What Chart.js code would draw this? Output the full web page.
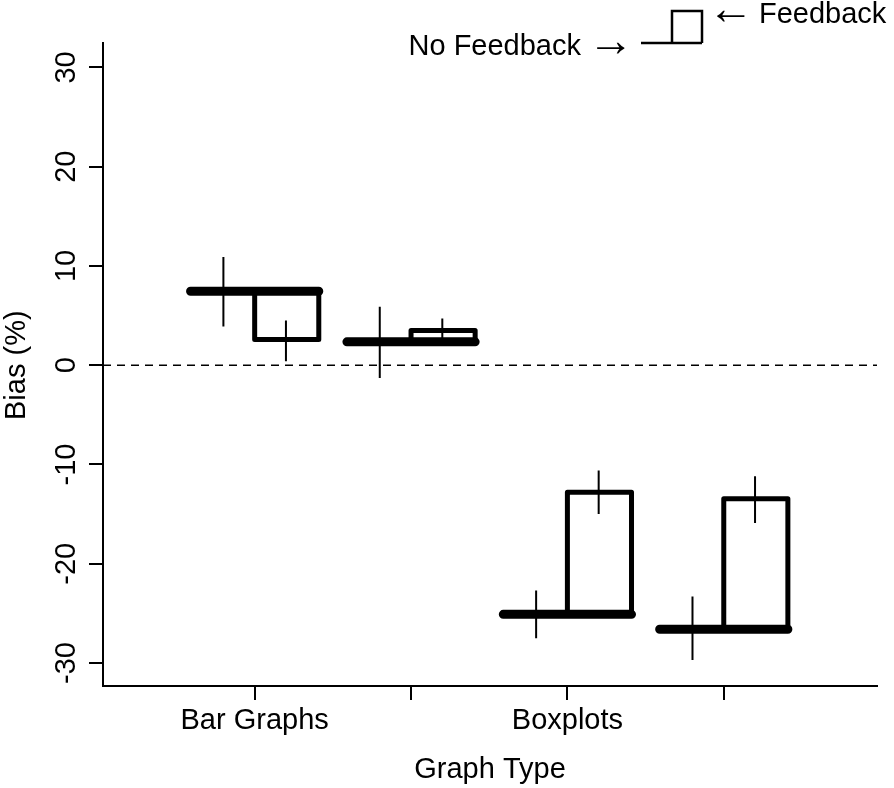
<!DOCTYPE html>
<html>
<head>
<meta charset="utf-8">
<script src="https://cdn.jsdelivr.net/npm/chart.js@4/dist/chart.umd.min.js"></script>
<style>
  html, body { margin: 0; padding: 0; background: #fff; }
  canvas { display: block; }
</style>
</head>
<body>
<canvas id="chart" width="894" height="788"></canvas>
<script>
// -------------------------------------------------------------------
// Data
// -------------------------------------------------------------------
const groups      = [1, 2, 3, 4];
const groupLabels = ["Bar Graphs", "", "Boxplots", ""];
const yTicks      = [-30, -20, -10, 0, 10, 20, 30];

const noFeedback  = [7.45, 2.35, -25.1, -26.6];
const feedback    = [2.6, 3.5, -12.8, -13.45];

const noFbLow     = [3.9, -1.3, -27.5, -29.7];
const noFbHigh    = [10.9, 5.9, -22.7, -23.3];
const fbLow       = [0.4, 2.3, -15.0, -15.9];
const fbHigh      = [4.5, 4.7, -10.6, -11.2];

// -------------------------------------------------------------------
// Geometry helpers (offsets in x units around each group)
// -------------------------------------------------------------------
const HALF  = 0.41;
const ERR   = 0.2;
const FONT  = "'Liberation Sans', Arial, sans-serif";
const FSIZE = 29;

function gap(x) { return { x: x, y: null }; }

const thickPts = [];
const rectPts  = [];
const errPts   = [];
groups.forEach((g, i) => {
  thickPts.push({ x: g - HALF, y: noFeedback[i] }, { x: g + HALF, y: noFeedback[i] }, gap(g + HALF));
  rectPts.push(
    { x: g, y: noFeedback[i] }, { x: g, y: feedback[i] },
    { x: g + HALF, y: feedback[i] }, { x: g + HALF, y: noFeedback[i] }, gap(g + HALF)
  );
  errPts.push({ x: g - ERR, y: noFbLow[i] }, { x: g - ERR, y: noFbHigh[i] }, gap(g - ERR));
  errPts.push({ x: g + ERR, y: fbLow[i] }, { x: g + ERR, y: fbHigh[i] }, gap(g + ERR));
});

const X_MIN = 0.03, X_MAX = 4.98;
const Y_MIN = -32.32, Y_MAX = 32.46;

// -------------------------------------------------------------------
// Custom text: y tick labels, axis titles, legend
// -------------------------------------------------------------------
const textPlugin = {
  id: "textPlugin",
  afterDraw(chart) {
    const ctx = chart.ctx;
    const ys  = chart.scales.y;
    const xs  = chart.scales.x;
    ctx.save();
    ctx.fillStyle = "#000";
    ctx.font = FSIZE + "px " + FONT;
    ctx.textAlign = "center";
    ctx.textBaseline = "middle";

    // y tick labels (rotated)
    yTicks.forEach(v => {
      const py = ys.getPixelForValue(v);
      ctx.save();
      ctx.translate(67, py);
      ctx.rotate(-Math.PI / 2);
      ctx.fillText(String(v), 0, 0);
      ctx.restore();
    });

    // y title
    ctx.save();
    ctx.translate(17, ys.getPixelForValue(0));
    ctx.rotate(-Math.PI / 2);
    ctx.fillText("Bias (%)", 0, 0);
    ctx.restore();

    // x title
    ctx.fillText("Graph Type", (xs.left + xs.right) / 2, 770);

    // legend
    ctx.textAlign = "right";
    ctx.fillText("No Feedback", 581, 47);
    ctx.textAlign = "left";
    ctx.fillText("Feedback", 759, 15);
    ctx.font = "46px " + FONT;
    ctx.textAlign = "center";
    ctx.fillText("\u2192", 611, 43);
    ctx.fillText("\u2190", 731, 11);

    ctx.lineWidth = 2.5;
    ctx.strokeStyle = "#000";
    ctx.beginPath();
    ctx.moveTo(641, 43);
    ctx.lineTo(702, 43);
    ctx.moveTo(672, 43);
    ctx.lineTo(672, 11);
    ctx.lineTo(702, 11);
    ctx.lineTo(702, 43);
    ctx.stroke();
    ctx.restore();
  }
};

// -------------------------------------------------------------------
// Chart
// -------------------------------------------------------------------
new Chart(document.getElementById("chart"), {
  type: "line",
  data: {
    datasets: [
      {
        data: [{ x: X_MIN, y: 0 }, { x: X_MAX, y: 0 }],
        borderColor: "#000", borderWidth: 1.5, borderDash: [8, 6],
        pointRadius: 0, order: 4
      },
      {
        data: rectPts,
        borderColor: "#000", borderWidth: 5, borderJoinStyle: "round",
        pointRadius: 0, spanGaps: false, order: 3
      },
      {
        data: thickPts,
        borderColor: "#000", borderWidth: 9, borderCapStyle: "round",
        pointRadius: 0, spanGaps: false, order: 2
      },
      {
        data: errPts,
        borderColor: "#000", borderWidth: 2,
        pointRadius: 0, spanGaps: false, order: 1
      }
    ]
  },
  options: {
    responsive: false,
    animation: false,
    events: [],
    layout: { padding: { top: 43, right: 17, left: 0, bottom: 0 } },
    plugins: { legend: { display: false }, tooltip: { enabled: false } },
    scales: {
      x: {
        type: "linear",
        min: X_MIN, max: X_MAX,
        afterFit: s => { s.height = 102; },
        afterBuildTicks: s => { s.ticks = groups.map(v => ({ value: v })); },
        grid: { drawOnChartArea: false, drawTicks: true, tickLength: 14, color: "#000", lineWidth: 2 },
        border: { display: true, color: "#000", width: 2 },
        ticks: {
          color: "#000", padding: 4, maxRotation: 0, autoSkip: false,
          font: { family: FONT, size: FSIZE },
          callback: v => groupLabels[groups.indexOf(v)] || ""
        }
      },
      y: {
        type: "linear",
        min: Y_MIN, max: Y_MAX,
        afterFit: s => { s.width = 103; },
        afterBuildTicks: s => { s.ticks = yTicks.map(v => ({ value: v })); },
        grid: { drawOnChartArea: false, drawTicks: true, tickLength: 14, color: "#000", lineWidth: 2 },
        border: { display: true, color: "#000", width: 2 },
        ticks: { display: false }
      }
    }
  },
  plugins: [textPlugin]
});
</script>
</body>
</html>
